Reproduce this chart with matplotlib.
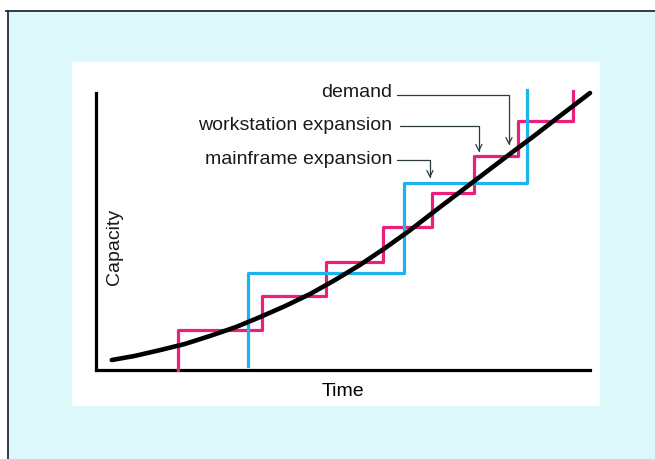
import matplotlib
matplotlib.use("Agg")
import matplotlib.pyplot as plt
from matplotlib.patches import Rectangle
from matplotlib.lines import Line2D

plt.rcParams['font.family'] = ['Liberation Sans', 'DejaVu Sans']

# ---- data (time units 0-10, capacity units 0-10) ----
demand_t = [0.32, 0.79, 1.30, 1.80, 2.31, 2.83, 3.32, 3.83, 4.33, 4.84,
            5.34, 5.85, 6.36, 6.86, 7.37, 7.87, 8.38, 8.89, 9.39, 10.0]
demand_c = [0.36, 0.51, 0.72, 0.94, 1.23, 1.55, 1.91, 2.31, 2.74, 3.25,
            3.79, 4.40, 5.05, 5.74, 6.43, 7.11, 7.80, 8.48, 9.17, 10.0]

workstation_t = [1.66, 1.66, 3.36, 4.66, 5.81, 6.80, 7.65, 8.54, 9.66]
workstation_c = [0.00, 1.44, 2.67, 3.90, 5.16, 6.39, 7.73, 8.99, 10.07]

mainframe_t = [3.08, 3.08, 6.23, 8.72]
mainframe_c = [0.14, 3.50, 6.75, 10.10]

labels = ["demand", "workstation expansion", "mainframe expansion"]
label_pos = [(6.00, 10.02), (6.00, 8.84), (6.00, 7.60)]
leader_start = [(6.09, 9.93), (6.15, 8.81), (6.09, 7.58)]
leader_tip = [(8.36, 8.12), (7.75, 7.87), (6.76, 6.93)]

x_label = "Time"
y_label = "Capacity"

PINK = '#ec1f7d'
BLUE = '#1db3ee'
BG = '#ddf8fa'

W, H = 655, 459
fig = plt.figure(figsize=(W / 100, H / 100), dpi=100)
fig.patch.set_facecolor('white')

# light cyan page area and white panel
fig.patches.append(Rectangle((8 / W, 0), 1 - 8 / W, (H - 11) / H, transform=fig.transFigure,
                             facecolor=BG, edgecolor='none', zorder=0))
fig.patches.append(Rectangle((72 / W, (H - 406) / H), (600 - 72) / W, (406 - 62) / H,
                             transform=fig.transFigure, facecolor='white', edgecolor='none', zorder=1))
fig.lines.append(Line2D([6 / W, 1], [(H - 11) / H] * 2, transform=fig.transFigure,
                        color='#2a2a3a', lw=1.3, zorder=2))
fig.lines.append(Line2D([8 / W] * 2, [0, (H - 11) / H], transform=fig.transFigure,
                        color='#2a2a3a', lw=1.3, zorder=2))

ax = fig.add_axes([96 / W, (H - 370) / H, (590 - 96) / W, (370 - 93) / H])
ax.set_zorder(10)
ax.set_facecolor('none')
ax.set_xlim(0, 10)
ax.set_ylim(0, 10)
for s in ['top', 'right']:
    ax.spines[s].set_visible(False)
for s in ['left', 'bottom']:
    ax.spines[s].set_linewidth(2.3)
    ax.spines[s].set_color('black')
    ax.spines[s].set_capstyle('projecting')
ax.set_xticks([])
ax.set_yticks([])

ax.plot(workstation_t, workstation_c, drawstyle='steps-post', color=PINK, lw=2.3,
        clip_on=False, zorder=3)
ax.plot(mainframe_t, mainframe_c, drawstyle='steps-post', color=BLUE, lw=2.3,
        clip_on=False, zorder=4)
ax.plot(demand_t, demand_c, color='black', lw=3.3, solid_capstyle='round',
        solid_joinstyle='round', clip_on=False, zorder=5)

for lab, (tx, ty), st, tip in zip(labels, label_pos, leader_start, leader_tip):
    ax.text(tx, ty, lab, ha='right', va='center', fontsize=14, color='#1a1a1a')
    ax.annotate('', xy=tip, xytext=st,
                arrowprops=dict(arrowstyle='->', color='#2b3a3e', lw=0.9,
                                shrinkA=0, shrinkB=0,
                                connectionstyle='angle,angleA=0,angleB=90,rad=0',
                                mutation_scale=11),
                annotation_clip=False, zorder=6)

ax.set_xlabel(x_label, fontsize=14, labelpad=9)
ax.text(0.38, 4.44, y_label, rotation=90, ha='center', va='center', fontsize=14,
        color='#1a1a1a')

fig.savefig('out.png', dpi=100, facecolor=fig.get_facecolor())
